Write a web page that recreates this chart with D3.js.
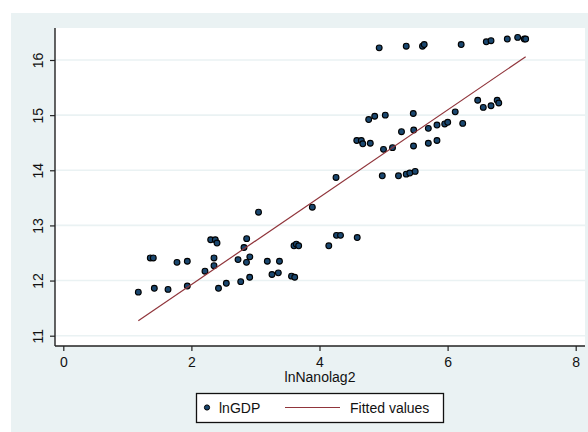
<!DOCTYPE html>
<html>
<head>
<meta charset="utf-8">
<script src="https://cdn.jsdelivr.net/npm/d3@7"></script>
<style>
  html, body { margin: 0; padding: 0; background: #ffffff; }
  svg { display: block; font-family: "Liberation Sans", Arial, Helvetica, sans-serif; }
</style>
</head>
<body>
<svg id="chart" width="588" height="432"></svg>
<script>
// lnNanolag2 (x) and lnGDP (y) observations
const lnNanolag2 = [
  1.171, 1.358, 1.405, 1.421, 1.635, 1.775, 1.936, 1.936, 2.212, 2.301,
  2.373, 2.400, 2.353, 2.353, 2.423, 2.545, 2.728, 2.770, 2.821, 2.863,
  2.860, 2.912, 2.910, 3.048, 3.185, 3.258, 3.357, 3.375, 3.563, 3.613,
  3.602, 3.638, 3.675, 3.888, 4.145, 4.265, 4.328, 4.589, 4.258, 4.980,
  5.233, 5.354, 5.410, 5.494, 4.582, 4.653, 4.676, 4.793, 4.999, 5.140,
  5.468, 5.699, 5.834, 4.768, 4.862, 5.027, 5.464, 5.280, 5.471, 5.699,
  5.834, 5.955, 6.002, 6.119, 6.236, 6.470, 6.557, 6.678, 6.774, 6.799,
  4.932, 5.354, 5.608, 5.635, 6.212, 6.604, 6.678, 6.932, 7.094, 7.197,
  7.219
];
const lnGDP = [
  11.79, 12.41, 12.41, 11.86, 11.84, 12.33, 12.35, 11.90, 12.17, 12.74,
  12.74, 12.68, 12.41, 12.27, 11.86, 11.95, 12.38, 11.98, 12.60, 12.76,
  12.33, 12.43, 12.06, 13.24, 12.35, 12.11, 12.14, 12.35, 12.08, 12.06,
  12.63, 12.66, 12.63, 13.33, 12.63, 12.82, 12.82, 12.78, 13.87, 13.90,
  13.90, 13.93, 13.95, 13.98, 14.54, 14.54, 14.48, 14.49, 14.38, 14.41,
  14.44, 14.49, 14.54, 14.92, 14.98, 15.00, 15.03, 14.70, 14.73, 14.76,
  14.82, 14.84, 14.87, 15.06, 14.85, 15.27, 15.14, 15.17, 15.27, 15.22,
  16.22, 16.25, 16.25, 16.28, 16.28, 16.33, 16.35, 16.38, 16.41, 16.38,
  16.38
];
// Fitted values at the ends of the observed x range
const fitX = [1.171, 7.219];
const fitY = [11.27, 16.06];

const xTicks = [0, 2, 4, 6, 8];
const yTicks = [11, 12, 13, 14, 15, 16];
const xTitle = "lnNanolag2";
const legendLabels = ["lnGDP", "Fitted values"];

const bgColor = "#eaf2f3";
const markerFill = "#1a476f";
const lineColor = "#90353b";

const svg = d3.select("#chart");

// Plot region bounds
const plot = { left: 55, right: 585, top: 28, bottom: 346 };

// Graph region background
svg.append("rect")
  .attr("x", 11).attr("y", 13)
  .attr("width", 588 - 11).attr("height", 432 - 13)
  .attr("fill", bgColor);

// Plot region background
svg.append("rect")
  .attr("x", plot.left).attr("y", plot.top)
  .attr("width", plot.right - plot.left).attr("height", plot.bottom - plot.top)
  .attr("fill", "#ffffff");

const x = d3.scaleLinear().domain([0, 8]).range([63.3, 575.7]);
const y = d3.scaleLinear().domain([11, 16]).range([335.7, 60]);

// Horizontal grid lines
svg.append("g")
  .selectAll("line")
  .data(yTicks)
  .join("line")
  .attr("x1", plot.left).attr("x2", plot.right)
  .attr("y1", d => y(d)).attr("y2", d => y(d))
  .attr("stroke", bgColor)
  .attr("stroke-width", 1.6);

// Y axis
const yAxis = svg.append("g")
  .attr("transform", `translate(${plot.left},0)`)
  .call(d3.axisLeft(y).tickValues(yTicks).tickFormat(d3.format("d"))
    .tickSize(5).tickPadding(0).tickSizeOuter(0));
yAxis.select(".domain").remove();
yAxis.append("line")
  .attr("x1", 0).attr("x2", 0)
  .attr("y1", plot.top).attr("y2", plot.bottom)
  .attr("stroke", "#222").attr("stroke-width", 1.4);
yAxis.selectAll(".tick line").attr("stroke", "#222").attr("stroke-width", 1.2);
yAxis.selectAll(".tick text")
  .attr("fill", "#111")
  .attr("font-size", 14)
  .attr("text-anchor", "middle")
  .attr("dy", 0)
  .attr("x", 0)
  .attr("transform", "translate(-12.5,0) rotate(-90)");

// X axis
const xAxis = svg.append("g")
  .attr("transform", `translate(0,${plot.bottom})`)
  .call(d3.axisBottom(x).tickValues(xTicks).tickFormat(d3.format("d"))
    .tickSize(5).tickPadding(6).tickSizeOuter(0));
xAxis.select(".domain").remove();
xAxis.append("line")
  .attr("x1", plot.left).attr("x2", plot.right)
  .attr("y1", 0).attr("y2", 0)
  .attr("stroke", "#222").attr("stroke-width", 1.4);
xAxis.selectAll(".tick line").attr("stroke", "#222").attr("stroke-width", 1.2);
xAxis.selectAll(".tick text")
  .attr("fill", "#111")
  .attr("font-size", 14)
  .attr("dy", "0.71em");

// X axis title
svg.append("text")
  .attr("x", (plot.left + plot.right) / 2)
  .attr("y", 382)
  .attr("text-anchor", "middle")
  .attr("font-size", 14)
  .attr("fill", "#111")
  .text(xTitle);

// Scatter points
const points = lnNanolag2.map((v, i) => ({ x: v, y: lnGDP[i] }));
svg.append("g")
  .selectAll("circle")
  .data(points)
  .join("circle")
  .attr("cx", d => x(d.x))
  .attr("cy", d => y(d.y))
  .attr("r", 2.9)
  .attr("fill", markerFill)
  .attr("stroke", "#000")
  .attr("stroke-width", 1.1);

// Fitted line
const line = d3.line().x(d => x(d[0])).y(d => y(d[1]));
svg.append("path")
  .datum(fitX.map((v, i) => [v, fitY[i]]))
  .attr("d", line)
  .attr("fill", "none")
  .attr("stroke", lineColor)
  .attr("stroke-width", 1.2);

// Legend
const legend = svg.append("g");
legend.append("rect")
  .attr("x", 196.5).attr("y", 393.5)
  .attr("width", 247).attr("height", 29)
  .attr("fill", "#ffffff")
  .attr("stroke", "#111")
  .attr("stroke-width", 1.3);
legend.append("circle")
  .attr("cx", 207).attr("cy", 407.5)
  .attr("r", 2.6)
  .attr("fill", markerFill)
  .attr("stroke", "#000")
  .attr("stroke-width", 1);
legend.append("text")
  .attr("x", 219).attr("y", 413)
  .attr("font-size", 14)
  .attr("fill", "#111")
  .text(legendLabels[0]);
legend.append("line")
  .attr("x1", 285).attr("x2", 340)
  .attr("y1", 407.5).attr("y2", 407.5)
  .attr("stroke", lineColor)
  .attr("stroke-width", 1.2);
legend.append("text")
  .attr("x", 350).attr("y", 413)
  .attr("font-size", 14)
  .attr("fill", "#111")
  .text(legendLabels[1]);
</script>
</body>
</html>
